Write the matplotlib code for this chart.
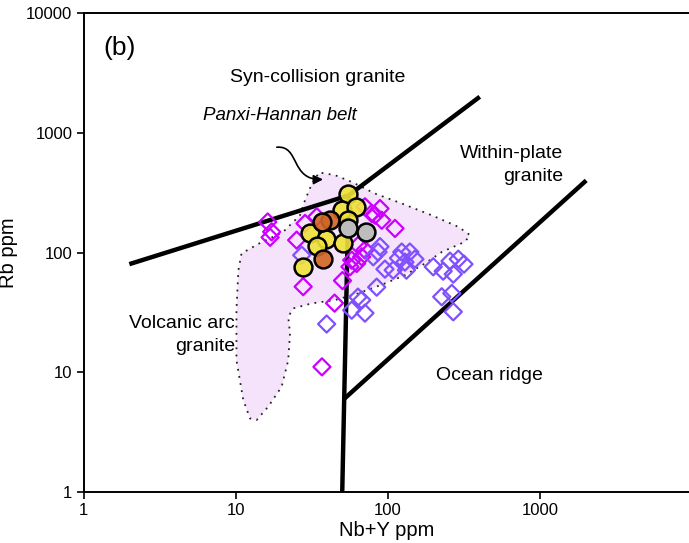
"""Rb vs (Nb+Y) tectonic discrimination diagram (Pearce et al., 1984), panel (b)."""
import numpy as np
import matplotlib
matplotlib.use("Agg")
import matplotlib.pyplot as plt
from matplotlib.path import Path
from matplotlib.patches import PathPatch, FancyArrowPatch

plt.rcParams["font.family"] = ["Liberation Sans", "DejaVu Sans"]

# --- Pearce field boundaries (Nb+Y, Rb) ---
syn_colg_x = [2, 55, 400]
syn_colg_y = [80, 300, 2000]
vag_wpg_x = [55, 51.5, 50]
vag_wpg_y = [300, 6, 1]
orv_wpg_x = [51.5, 2000]
orv_wpg_y = [6, 400]

# --- Panxi-Hannan belt envelope ---
belt_x = [36.6, 44.8, 57.7, 82.0, 123, 193, 289, 345, 320, 225, 175, 129, 95.4,
          63.7, 44.8, 31.5, 23.9, 22.1, 22.7, 22.1, 20.0, 16.3, 13.7, 12.4, 11.2,
          10.1, 10.1, 10.4, 10.9, 14.4, 20.4, 26.4, 28.5, 30.7, 33.6]
belt_y = [463, 443, 389, 311, 257, 205, 164, 140, 123, 101, 81.1, 64.8, 55.2,
          45.6, 40.1, 37.6, 34.2, 29.1, 21.1, 12.6, 7.57, 5.15, 3.99, 4.12, 5.86,
          12.6, 33.0, 71.3, 98.3, 120, 148, 205, 274, 345, 434]

# --- belt samples: magenta diamonds ---
mag_x = [16.2, 17.2, 16.8, 25.1, 28.5, 34.0, 27.7, 50.2, 44.5, 36.8, 70.5, 78.0,
         88.5, 90.8, 111, 63.7, 70.5, 57.7, 62.2, 67.1, 56.2, 82.0]
mag_y = [180, 149, 134, 127, 175, 199, 51.9, 58.3, 37.8, 11.1, 241, 212,
         233, 186, 159, 115, 105, 86.4, 81.1, 92.1, 76.0, 205]

# --- belt samples: violet diamonds ---
vio_x = [27.1, 39.5, 57.7, 67.1, 70.5, 84.2, 79.9, 88.5, 85.9, 95.4, 108, 117,
         123, 129, 139, 132, 150, 198, 230, 255, 289, 315, 268, 225, 262, 268, 63.4]
vio_y = [95.1, 25.3, 33.0, 40.1, 31.2, 51.4, 92.1, 112, 101, 72.7, 71.3, 89.8,
         101, 83.2, 101, 71.3, 88.1, 76.0, 69.9, 84.8, 88.1, 80.0, 66.0, 42.7, 45.6, 32.0, 42.4]

# --- this study: circles ---
yel_x = [54.8, 49.6, 61.3, 54.8, 30.7, 39.1, 50.8, 34.0, 27.7]
yel_y = [311, 226, 241, 186, 146, 129, 120, 113, 76]
ora_x = [41.5, 36.6, 37.4]
ora_y = [186, 180, 89]
gry_x = [54.3, 71.3]
gry_y = [159, 149]

fig = plt.figure(figsize=(6.89, 5.43), dpi=100)
ax = fig.add_axes([0.1212, 0.0939, 0.8788, 0.882])
ax.set_xscale("log")
ax.set_yscale("log")
ax.set_xlim(1, 10 ** 3.976)
ax.set_ylim(1, 10000)

verts = list(zip(belt_x, belt_y)) + [(belt_x[0], belt_y[0])]
codes = [Path.MOVETO] + [Path.LINETO] * (len(belt_x) - 1) + [Path.CLOSEPOLY]
ax.add_patch(PathPatch(Path(verts, codes), facecolor="#f5e2fb", edgecolor="none", zorder=1))
ax.add_patch(PathPatch(Path(verts, codes), facecolor="none", edgecolor="#222222",
                       linestyle=(0, (1, 3)), linewidth=1.3, zorder=1.5))

for xs, ys in [(syn_colg_x, syn_colg_y), (vag_wpg_x, vag_wpg_y), (orv_wpg_x, orv_wpg_y)]:
    ax.plot(xs, ys, color="black", linewidth=3.2, solid_capstyle="butt", zorder=2)

ax.scatter(mag_x, mag_y, marker="D", s=76, facecolors="none", edgecolors="#cc00ff",
           linewidths=1.6, zorder=3)
ax.scatter(vio_x, vio_y, marker="D", s=76, facecolors="none", edgecolors="#8050ff",
           linewidths=1.6, zorder=3)
ax.scatter(yel_x, yel_y, s=165, facecolors=(0.94, 0.89, 0.22, 0.9), edgecolors="black",
           linewidths=1.8, zorder=4)
ax.scatter(ora_x, ora_y, s=165, facecolors=(0.82, 0.40, 0.14, 0.9), edgecolors="black",
           linewidths=1.8, zorder=4)
ax.scatter(gry_x, gry_y, s=165, facecolors="#bdbdbd", edgecolors="black",
           linewidths=1.8, zorder=5)

# curved pointer from the belt label to the envelope
arrow_path = Path([(18.6, 758), (26.4, 788), (22.7, 402), (37.4, 408)],
                  [Path.MOVETO, Path.CURVE4, Path.CURVE4, Path.CURVE4])
ax.add_patch(FancyArrowPatch(path=arrow_path, transform=ax.transData, arrowstyle="-|>",
                             mutation_scale=14, color="black", linewidth=1.2, zorder=6))

ax.text(0.060, 0.927, "(b)", transform=ax.transAxes, fontsize=19, ha="center", va="center")
ax.text(0.387, 0.866, "Syn-collision granite", transform=ax.transAxes, fontsize=14,
        ha="center", va="center")
ax.text(0.3245, 0.787, "Panxi-Hannan belt", transform=ax.transAxes, fontsize=13.5,
        style="italic", ha="center", va="center")
ax.text(0.792, 0.683, "Within-plate\ngranite", transform=ax.transAxes, fontsize=14,
        ha="right", va="center", multialignment="right", linespacing=1.4)
ax.text(0.250, 0.328, "Volcanic arc\ngranite", transform=ax.transAxes, fontsize=14,
        ha="right", va="center", multialignment="right", linespacing=1.4)
ax.text(0.671, 0.244, "Ocean ridge", transform=ax.transAxes, fontsize=14,
        ha="center", va="center")

ax.set_xticks([1, 10, 100, 1000])
ax.set_xticklabels(["1", "10", "100", "1000"])
ax.set_yticks([1, 10, 100, 1000, 10000])
ax.set_yticklabels(["1", "10", "100", "1000", "10000"])
ax.minorticks_off()
ax.tick_params(direction="out", length=5, width=1.2, labelsize=12, pad=3)
ax.set_xlabel("Nb+Y ppm", fontsize=14.5, labelpad=2)
ax.set_ylabel("Rb ppm", fontsize=14.5, labelpad=6)
for side in ("left", "bottom", "top"):
    ax.spines[side].set_linewidth(1.4)
ax.spines["right"].set_visible(False)

fig.savefig("out.png", dpi=100)
